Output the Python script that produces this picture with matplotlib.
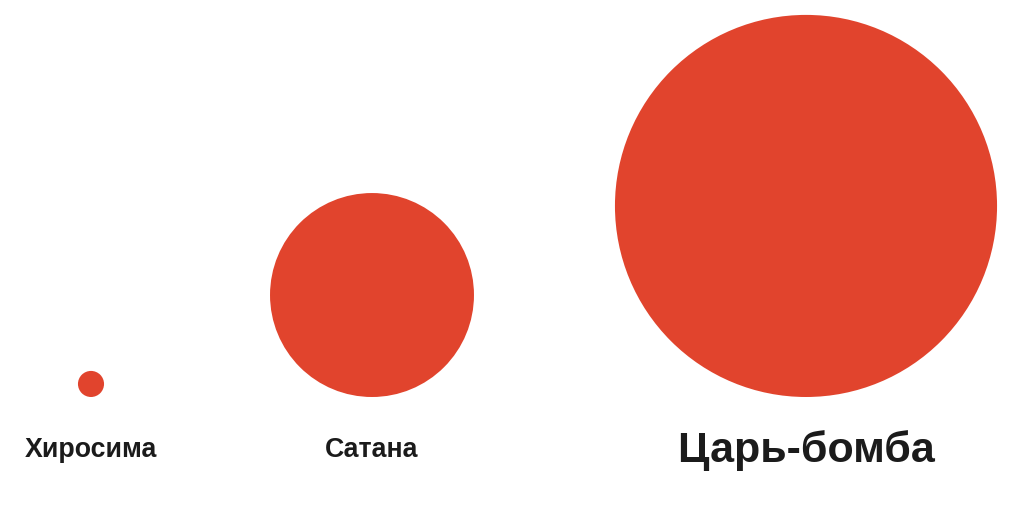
import numpy as np
import matplotlib
matplotlib.use('Agg')
import matplotlib.pyplot as plt
from matplotlib.patches import Circle

# relative blast size (circle area, arbitrary units)
names = ['Хиросима', 'Сатана', 'Царь-бомба']
areas = [0.17, 10.4, 36.5]

# layout
x_pos = [91, 372, 806]
base_y = 397
label_y = [457, 457, 462]
label_size = [19.3, 19.3, 31]
scale = 1000 ** 0.5
red = '#E1442D'

plt.rcParams['font.family'] = ['Liberation Sans', 'DejaVu Sans']

fig = plt.figure(figsize=(10.24, 5.07), dpi=100)
ax = fig.add_axes([0, 0, 1, 1])
ax.set_xlim(0, 1024)
ax.set_ylim(507, 0)
ax.set_aspect('equal')
ax.axis('off')

for name, a, x, ly, fs in zip(names, areas, x_pos, label_y, label_size):
    r = np.sqrt(a) * scale
    ax.add_patch(Circle((x, base_y - r), r, color=red, lw=0))
    ax.text(x, ly, name, ha='center', va='baseline', fontsize=fs,
            fontweight='bold', color='#1b1b1b')

fig.savefig('out.png', dpi=100, facecolor='white')
